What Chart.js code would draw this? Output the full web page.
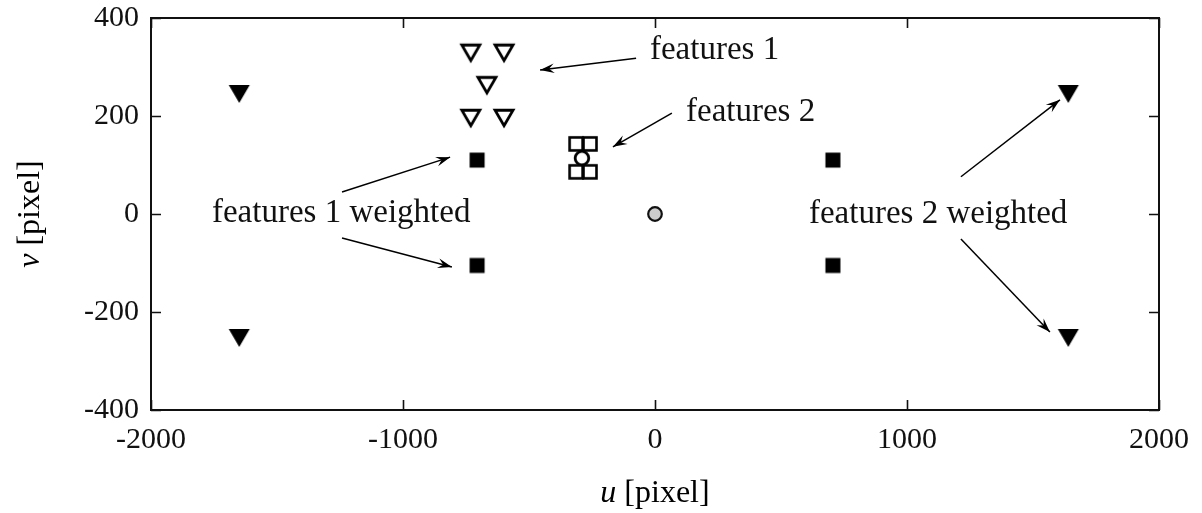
<!DOCTYPE html>
<html>
<head>
<meta charset="utf-8">
<script src="https://cdn.jsdelivr.net/npm/chart.js@4.4.0/dist/chart.umd.min.js"></script>
<style>
html,body{margin:0;padding:0;background:#fff;}
#wrap{width:1202px;height:513px;}
</style>
</head>
<body>
<div id="wrap"><canvas id="c" width="1202" height="513"></canvas></div>
<script>
// ---- data ----
const xTicks = [-2000, -1000, 0, 1000, 2000];
const yTicks = [-400, -200, 0, 200, 400];

const features1U = [-731, -599, -667, -731, -599];
const features1V = [329, 329, 263, 196, 196];

const features2U = [-313, -258, -313, -258];
const features2V = [143, 143, 86, 86];

const features2MeanU = [-290];
const features2MeanV = [114];

const features1wU = [-706, -706, 706, 706];
const features1wV = [110, -105, 110, -105];

const features2wU = [-1650, -1650, 1640, 1640];
const features2wV = [245, -253, 245, -253];

const originU = [0];
const originV = [0];

// annotation labels and arrows (data coordinates)
const annoText = ["features 1", "features 2", "features 1 weighted", "features 2 weighted"];
const annoTextU = [-20, 123, -1758, 611];
const annoTextV = [335, 208, 2, 0];
const arrowFromU = [-75, 67, -1242, -1242, 1214, 1214];
const arrowFromV = [318, 206, 45, -49, 76, -51];
const arrowToU = [-456, -167, -813, -806, 1607, 1567];
const arrowToV = [294, 137, 116, -108, 233, -241];

// ---- marker images ----
function marker(kind) {
  const c = document.createElement('canvas');
  const S = 26;
  c.width = S; c.height = S;
  const g = c.getContext('2d');
  const m = S / 2;
  g.lineJoin = 'miter';
  if (kind === 'triFilled' || kind === 'triOpen') {
    const w = kind === 'triFilled' ? 21 : 18, h = kind === 'triFilled' ? 18 : 15.5;
    g.beginPath();
    g.moveTo(m - w / 2, m - h / 2);
    g.lineTo(m + w / 2, m - h / 2);
    g.lineTo(m, m + h / 2);
    g.closePath();
    if (kind === 'triFilled') { g.fillStyle = '#000'; g.fill(); }
    else { g.fillStyle = '#fff'; g.fill(); g.lineWidth = 2.8; g.strokeStyle = '#000'; g.stroke(); }
  } else if (kind === 'sqFilled') {
    g.fillStyle = '#000'; g.fillRect(m - 7.5, m - 7.5, 15, 15);
  } else if (kind === 'sqOpen') {
    g.fillStyle = '#fff'; g.fillRect(m - 6.5, m - 6.5, 13, 13);
    g.lineWidth = 2.6; g.strokeStyle = '#000'; g.strokeRect(m - 6.5, m - 6.5, 13, 13);
  } else if (kind === 'circOpen') {
    g.beginPath(); g.arc(m, m, 6.8, 0, Math.PI * 2);
    g.fillStyle = '#fff'; g.fill(); g.lineWidth = 2.8; g.strokeStyle = '#000'; g.stroke();
  } else if (kind === 'circGray') {
    g.beginPath(); g.arc(m, m, 6.8, 0, Math.PI * 2);
    g.fillStyle = '#cccccc'; g.fill(); g.lineWidth = 2.2; g.strokeStyle = '#111'; g.stroke();
  }
  return c;
}

function pts(us, vs) { return us.map((u, i) => ({ x: u, y: vs[i] })); }
function ds(label, us, vs, kind) {
  return { label, data: pts(us, vs), pointStyle: marker(kind), pointRadius: 10, pointHoverRadius: 10, showLine: false };
}

const FONT = '"Liberation Serif", "Times New Roman", serif';

const decor = {
  id: 'decor',
  afterDraw(chart) {
    const { ctx, chartArea: a, scales } = chart;
    const xs = scales.x, ys = scales.y;
    ctx.save();
    // frame
    ctx.strokeStyle = '#111';
    ctx.lineWidth = 2;
    ctx.strokeRect(a.left, a.top, a.right - a.left, a.bottom - a.top);
    // inward ticks
    ctx.lineWidth = 1.6;
    ctx.beginPath();
    xTicks.forEach(t => {
      const p = Math.round(xs.getPixelForValue(t)) + 0.5;
      ctx.moveTo(p, a.bottom); ctx.lineTo(p, a.bottom - 10);
      ctx.moveTo(p, a.top); ctx.lineTo(p, a.top + 10);
    });
    yTicks.forEach(t => {
      const p = Math.round(ys.getPixelForValue(t)) + 0.5;
      ctx.moveTo(a.left, p); ctx.lineTo(a.left + 10, p);
      ctx.moveTo(a.right, p); ctx.lineTo(a.right - 10, p);
    });
    ctx.stroke();

    // annotation texts
    ctx.fillStyle = '#111';
    ctx.font = '33px ' + FONT;
    ctx.textBaseline = 'middle';
    ctx.textAlign = 'left';
    annoText.forEach((t, i) => {
      ctx.fillText(t, xs.getPixelForValue(annoTextU[i]), ys.getPixelForValue(annoTextV[i]));
    });
    // arrows
    ctx.strokeStyle = '#000';
    ctx.fillStyle = '#000';
    ctx.lineWidth = 1.5;
    arrowFromU.forEach((u, i) => {
      const x0 = xs.getPixelForValue(u), y0 = ys.getPixelForValue(arrowFromV[i]);
      const x1 = xs.getPixelForValue(arrowToU[i]), y1 = ys.getPixelForValue(arrowToV[i]);
      const ang = Math.atan2(y1 - y0, x1 - x0);
      ctx.beginPath(); ctx.moveTo(x0, y0); ctx.lineTo(x1, y1); ctx.stroke();
      const L = 15, sp = 0.33;
      ctx.beginPath();
      ctx.moveTo(x1, y1);
      ctx.lineTo(x1 - L * Math.cos(ang - sp), y1 - L * Math.sin(ang - sp));
      ctx.lineTo(x1 - 0.6 * L * Math.cos(ang), y1 - 0.6 * L * Math.sin(ang));
      ctx.lineTo(x1 - L * Math.cos(ang + sp), y1 - L * Math.sin(ang + sp));
      ctx.closePath();
      ctx.fill();
    });

    // axis titles
    ctx.font = 'italic 32px ' + FONT;
    const t1 = 'u', t2 = ' [pixel]';
    ctx.textBaseline = 'middle';
    const w1 = ctx.measureText(t1).width;
    ctx.font = '32px ' + FONT;
    const w2 = ctx.measureText(t2).width;
    const cx = (a.left + a.right) / 2, cy = 494;
    let sx = cx - (w1 + w2) / 2;
    ctx.font = 'italic 32px ' + FONT; ctx.fillText(t1, sx, cy);
    ctx.font = '32px ' + FONT; ctx.fillText(t2, sx + w1, cy);

    ctx.save();
    ctx.translate(31, (a.top + a.bottom) / 2);
    ctx.rotate(-Math.PI / 2);
    ctx.font = 'italic 32px ' + FONT;
    const v1 = ctx.measureText('v').width;
    ctx.font = '32px ' + FONT;
    const v2 = ctx.measureText(' [pixel]').width;
    sx = -(v1 + v2) / 2;
    ctx.font = 'italic 32px ' + FONT; ctx.fillText('v', sx, 0);
    ctx.font = '32px ' + FONT; ctx.fillText(' [pixel]', sx + v1, 0);
    ctx.restore();
    ctx.restore();
  }
};

new Chart(document.getElementById('c'), {
  type: 'scatter',
  data: {
    datasets: [
      ds('features 1 weighted', features1wU, features1wV, 'sqFilled'),
      ds('features 2 weighted', features2wU, features2wV, 'triFilled'),
      ds('features 1', features1U, features1V, 'triOpen'),
      ds('features 2', features2U, features2V, 'sqOpen'),
      ds('features 2 mean', features2MeanU, features2MeanV, 'circOpen'),
      ds('origin', originU, originV, 'circGray')
    ]
  },
  options: {
    responsive: false,
    animation: false,
    events: [],
    layout: { padding: { top: 0, right: 43, left: 0, bottom: 0 } },
    plugins: { legend: { display: false }, tooltip: { enabled: false } },
    scales: {
      x: {
        type: 'linear', min: -2000, max: 2000,
        afterBuildTicks(s) { s.ticks = xTicks.map(v => ({ value: v })); },
        afterFit(s) { s.height = 103; },
        grid: { display: false, drawTicks: false },
        border: { display: false },
        ticks: { padding: 12, color: '#111', font: { family: FONT, size: 30 }, maxRotation: 0, autoSkip: false,
          callback: v => String(v) }
      },
      y: {
        type: 'linear', min: -400, max: 400,
        afterBuildTicks(s) { s.ticks = yTicks.map(v => ({ value: v })); },
        afterFit(s) { s.width = 151; s.paddingTop = 18; },
        grid: { display: false, drawTicks: false },
        border: { display: false },
        ticks: { padding: 12, color: '#111', font: { family: FONT, size: 30 }, autoSkip: false,
          callback: v => String(v) }
      }
    }
  },
  plugins: [decor]
});
</script>
</body>
</html>
